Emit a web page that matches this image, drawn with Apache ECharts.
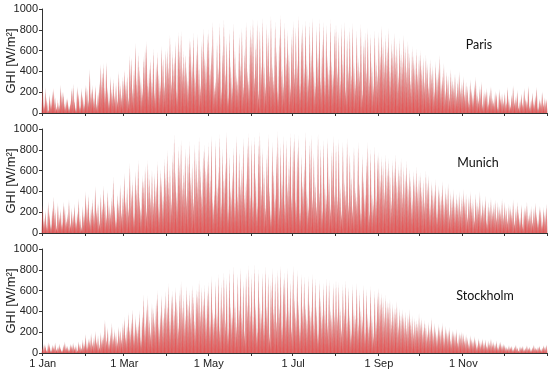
<!DOCTYPE html>
<html>
<head>
<meta charset="utf-8">
<script src="https://cdn.jsdelivr.net/npm/echarts@6/dist/echarts.min.js"></script>
<style>html,body{margin:0;padding:0;background:#fff}#c{width:550px;height:372px}</style>
</head>
<body>
<div id="c"></div>
<script>
// Calendar (2019-like, 365 days)
const monthNames = ['Jan','Feb','Mar','Apr','May','Jun','Jul','Aug','Sep','Oct','Nov','Dec'];
const monthDays = [31,28,31,30,31,30,31,31,30,31,30,31];
const labelledMonths = ['Jan','Mar','May','Jul','Sep','Nov'];
const yTicks = [0,200,400,600,800,1000];
const cities = ['Paris','Munich','Stockholm'];

// Daily peak GHI [W/m2], one sub-array per month. "rose" = pale series, "red" = red series
const parisRose = [
[250,60,245,120,30,180,90,210,220,150,40,100,80,270,190,200,60,140,130,70,90,240,280,110,50,260,180,70,240,160,90],
[270,240,130,420,200,270,150,250,90,180,300,470,380,480,220,490,250,120,350,200,330,160,290,110,400,260,180,350],
[400,300,350,150,560,520,240,400,680,300,580,420,350,200,550,640,690,280,450,500,330,620,180,480,560,400,260,650,520,300,610],
[620,450,750,300,600,520,700,200,780,640,790,420,600,550,450,300,720,680,500,780,350,610,760,430,250,700,820,580,480,760],
[800,420,650,880,240,300,700,460,860,200,620,910,380,720,150,800,450,280,870,600,360,300,760,490,820,250,620,880,400,300,840],
[760,910,350,680,900,180,820,440,920,500,250,860,780,400,930,480,320,890,640,200,760,945,420,300,880,520,800,600,250,760],
[890,400,830,500,930,280,780,860,440,900,520,340,870,600,920,450,260,840,580,900,300,710,880,320,850,560,420,900,500,380,820],
[860,440,780,300,850,520,880,220,760,450,820,360,870,500,280,800,540,400,850,180,700,780,440,820,320,760,480,250,800,520,400],
[780,560,840,700,480,760,650,820,400,700,620,780,540,680,350,720,600,500,760,650,420,700,580,300,640,560,480,620,380,560],
[600,420,540,300,560,480,250,520,400,460,200,500,380,440,560,300,350,480,220,400,360,150,420,330,280,380,200,320,400,250,300],
[350,180,300,260,100,320,240,150,280,346,200,120,260,300,90,220,180,240,80,200,260,150,100,210,180,60,230,140,190,120],
[200,90,250,140,60,180,270,100,160,220,50,130,190,80,240,150,110,260,70,120,200,90,170,250,60,140,100,210,80,150,120]
];
const parisRed = [
[230,90,200,150,20,160,120,180,240,100,60,130,50,240,210,170,90,110,150,40,120,220,250,140,30,230,200,50,210,180,70],
[240,260,100,380,230,240,120,270,60,200,280,440,400,450,250,460,220,150,320,230,300,190,260,140,370,290,150,320],
[420,260,380,120,520,540,200,430,640,340,550,450,300,240,520,600,660,320,420,530,300,580,220,450,590,360,300,620,540,260,580],
[590,480,720,340,560,560,660,240,740,600,760,460,560,580,400,340,680,700,460,740,390,570,720,470,290,660,790,540,520,720],
[760,460,600,850,280,340,660,420,830,240,580,870,420,680,190,760,490,240,830,560,400,340,720,450,790,290,580,850,440,340,800],
[720,880,390,640,860,220,780,480,890,460,290,820,740,440,900,440,360,850,600,240,720,910,460,260,850,560,760,560,290,720],
[850,440,790,460,900,320,740,820,400,870,480,380,830,560,890,410,300,800,540,870,340,670,850,360,810,520,460,860,460,420,780],
[820,400,740,340,810,480,840,260,720,410,780,400,830,460,320,760,500,440,810,220,660,740,400,780,360,720,440,290,760,480,360],
[740,600,800,660,520,720,610,780,440,660,580,740,580,640,390,680,560,540,720,610,460,660,540,340,600,520,440,580,420,520],
[560,460,500,340,520,440,290,480,360,420,240,460,340,400,520,260,390,440,180,370,320,190,380,300,240,350,170,290,370,220,270],
[320,210,270,230,130,290,210,180,250,320,170,150,230,280,60,190,210,210,110,170,240,120,130,180,200,40,200,170,160,100],
[180,110,230,110,80,160,240,130,140,200,70,110,170,100,220,130,130,240,50,140,180,110,150,230,40,120,120,190,100,130,140]
];
const munichRose = [
[270,120,220,60,300,180,90,250,350,200,40,290,150,230,80,300,260,110,190,320,70,240,160,280,100,210,330,140,60,260,190],
[400,250,370,120,260,330,180,450,210,300,90,380,240,460,320,150,410,280,200,350,540,260,120,380,300,470,190,380],
[580,300,450,220,670,380,520,160,600,420,700,340,250,560,480,650,200,700,530,380,610,300,580,450,690,240,620,500,360,720,580],
[800,500,650,300,760,960,580,400,830,700,900,450,620,820,350,760,880,540,680,300,860,720,500,920,640,380,800,860,600,740],
[870,520,940,300,380,900,480,600,950,280,820,560,660,980,220,760,400,560,830,300,940,350,800,500,620,920,340,500,870,960,380],
[900,300,940,580,250,880,970,420,820,600,240,760,950,400,180,880,620,340,800,980,260,860,520,940,280,900,480,650,960,360],
[880,970,300,820,940,200,760,500,680,980,420,240,880,940,320,780,500,260,960,420,840,200,900,480,340,920,560,240,800,940,400],
[860,320,900,460,180,880,520,380,920,260,780,560,220,840,440,320,880,500,200,760,550,340,720,880,180,800,400,280,840,360,760],
[780,520,740,680,400,760,620,720,560,300,700,640,760,480,660,600,720,380,650,560,700,450,620,540,300,600,520,640,420,560],
[580,400,520,300,600,480,560,250,500,440,380,520,200,460,420,350,500,280,440,380,480,180,400,350,420,260,380,320,400,220,360],
[420,300,380,150,350,400,260,330,120,380,300,250,400,180,320,280,360,100,300,250,340,200,280,320,150,300,260,200,330,180],
[300,220,120,280,260,180,320,90,240,300,200,150,280,60,250,220,300,140,200,260,100,240,290,180,130,260,220,80,250,200,280]
];
const munichRed = [
[240,150,190,90,270,210,60,220,320,230,70,260,180,200,110,270,230,140,160,290,100,210,190,250,130,180,300,170,40,230,160],
[370,280,340,150,230,300,210,420,240,270,120,350,270,430,290,180,380,250,230,320,500,290,150,350,270,440,220,350],
[540,340,420,250,630,420,480,200,560,460,660,380,220,520,520,610,240,660,570,340,570,340,540,490,650,280,580,540,320,680,540],
[760,540,610,340,720,910,620,360,790,660,860,490,580,780,390,720,840,580,640,340,820,680,540,880,600,420,760,820,640,700],
[830,560,900,340,420,860,440,640,910,320,780,520,700,940,260,720,440,600,790,340,900,390,760,460,660,880,380,540,830,920,340],
[860,340,900,540,290,840,930,460,780,560,280,720,910,440,220,840,580,380,760,940,300,820,480,900,320,860,440,690,920,320],
[840,930,340,780,900,240,720,460,640,940,380,280,840,900,360,740,460,300,920,380,800,240,860,440,380,880,520,280,760,900,360],
[820,360,860,420,220,840,480,420,880,300,740,520,260,800,400,360,840,460,240,720,510,380,680,840,220,760,360,320,800,320,720],
[740,560,700,640,440,720,580,680,600,340,660,600,720,520,620,560,680,420,610,520,660,490,580,500,340,560,480,600,460,520],
[540,440,480,340,560,440,520,290,460,400,420,480,240,420,380,390,460,320,400,340,440,220,360,310,380,300,340,280,360,260,320],
[380,330,340,190,310,360,290,290,160,340,270,280,360,210,280,250,320,130,260,220,300,230,240,290,180,260,230,230,290,150],
[270,250,150,250,230,210,290,120,210,270,230,120,250,90,220,250,270,170,170,230,130,210,260,210,100,230,250,110,220,170,250]
];
const stockholmRose = [
[40,90,60,20,100,70,30,80,50,100,30,60,90,40,20,80,110,50,70,30,90,60,100,40,80,20,110,70,50,130,90],
[180,60,140,110,190,80,150,210,100,170,50,200,130,180,320,120,250,90,200,290,140,230,170,100,260,210,130,290],
[345,150,280,390,220,320,420,180,360,250,300,410,130,380,565,260,450,550,320,200,480,435,300,520,600,250,400,560,330,480,600],
[450,670,300,560,600,380,640,500,250,600,690,420,560,330,650,480,600,380,660,520,280,620,560,700,400,640,500,660,340,600],
[680,280,740,400,350,700,360,760,220,680,420,780,300,720,200,800,440,360,840,500,250,760,420,820,340,700,180,780,460,840,400],
[760,320,855,480,200,800,520,380,780,280,840,460,760,150,700,820,400,740,300,800,460,840,250,720,780,360,820,440,700,220],
[840,560,360,800,500,250,760,420,740,480,320,740,500,400,760,280,720,460,180,700,540,360,680,420,720,260,700,440,340,680,400],
[700,360,680,440,220,660,400,700,300,640,380,180,660,420,340,680,260,600,440,320,660,200,620,380,280,640,360,160,600,320,580],
[630,480,580,540,360,560,500,440,520,300,480,440,400,500,260,430,380,420,340,400,240,370,420,300,360,200,340,320,260,380],
[300,340,220,320,280,180,300,260,340,200,290,240,160,280,250,220,290,150,260,230,200,250,120,220,210,180,230,100,200,180,210],
[190,120,180,150,80,170,140,110,160,130,60,145,120,90,140,100,130,60,120,100,140,80,110,90,120,50,100,110,70,90],
[80,60,40,75,50,70,30,60,80,45,20,65,55,70,30,50,75,40,60,25,55,80,45,35,60,70,30,50,75,60,80]
];
const stockholmRed = [
[60,70,80,30,80,90,20,60,70,80,40,50,70,60,30,60,90,70,50,40,70,80,80,60,60,30,90,90,40,110,70],
[150,90,110,140,160,110,120,180,130,140,80,170,160,150,290,150,220,120,170,260,170,200,200,130,230,240,160,260],
[320,180,250,360,250,290,390,210,330,280,270,380,160,350,530,290,420,520,350,230,450,400,330,490,570,280,370,530,360,450,560],
[480,630,340,520,570,420,600,530,290,560,650,460,520,370,610,520,560,420,620,560,320,580,600,660,440,600,540,620,380,560],
[640,320,700,440,390,660,400,720,260,640,460,740,340,680,240,760,480,400,800,460,290,720,460,780,380,660,220,740,500,800,440],
[720,360,810,440,240,760,480,420,740,320,800,420,720,190,660,780,440,700,340,760,420,800,290,680,740,400,780,400,660,260],
[800,520,400,760,460,290,720,460,700,440,360,700,460,440,720,320,680,420,220,660,500,400,640,380,680,300,660,400,380,640,360],
[660,400,640,400,260,620,440,660,340,600,340,220,620,380,380,640,300,560,400,360,620,240,580,340,320,600,320,200,560,280,540],
[590,520,540,500,400,520,460,480,480,340,440,400,440,460,300,400,350,380,370,360,280,340,380,330,320,230,310,290,290,340],
[270,310,250,290,250,210,270,230,310,230,260,210,190,250,220,250,260,180,230,200,220,220,140,200,180,200,200,120,180,150,190],
[170,140,160,130,100,150,120,130,140,110,80,125,100,110,120,80,110,80,100,80,120,100,90,70,100,60,80,90,80,70],
[70,50,50,60,60,60,40,50,70,55,30,55,45,60,40,40,65,50,50,35,45,70,55,45,50,60,40,45,65,50,70]
];

// ---------- build ----------
const categories = [];
const monthStart = new Set();
const labelIdx = new Set();
monthNames.forEach((m, mi) => {
  for (let d = 1; d <= monthDays[mi]; d++) {
    if (d === 1) { monthStart.add(categories.length); if (labelledMonths.includes(m)) labelIdx.add(categories.length); }
    categories.push(d + ' ' + m);
  }
});
function flat(a){ const r=[]; a.forEach((m, mi)=>{ for(let i=0;i<monthDays[mi];i++) r.push(m[i]!==undefined?m[i]:0); }); return r; }

const seriesData = [[parisRose, parisRed],[munichRose, munichRed],[stockholmRose, stockholmRed]];
const gridTops = [9, 129, 249];
const gridH = 104;
const font = 'Liberation Sans, Arial, sans-serif';

const grids = [], xAxes = [], yAxes = [], series = [], graphics = [];
const labelPos = [[479, 45], [478, 163], [485, 296]];
cities.forEach((city, i) => {
  grids.push({ left: 42, right: 3, top: gridTops[i], height: gridH, containLabel: false, outerBoundsMode: 'none' });
  const bottom = i === cities.length - 1;
  xAxes.push({
    type: 'category', gridIndex: i, data: categories, boundaryGap: true,
    axisLine: { show: true, lineStyle: { color: '#333', width: 1 } },
    axisTick: { show: true, length: 3, interval: (idx) => monthStart.has(idx), lineStyle: { color: '#333' } },
    axisLabel: { show: bottom, interval: (idx) => labelIdx.has(idx), formatter: (v) => v, color: '#222', fontSize: 11, fontFamily: font, margin: 5 },
    splitLine: { show: false }
  });
  yAxes.push({
    type: 'value', gridIndex: i, min: 0, max: 1000, interval: 200,
    name: 'GHI [W/m²]', nameLocation: 'middle', nameGap: 24, nameRotate: 90, nameMoveOverlap: false,
    nameTextStyle: { fontSize: 13, color: '#222', fontFamily: font },
    axisLine: { show: true, lineStyle: { color: '#333', width: 1 } },
    axisTick: { show: true, length: 3, lineStyle: { color: '#333' } },
    axisLabel: { color: '#222', fontSize: 11, fontFamily: font, margin: 4, formatter: (v) => yTicks.includes(v) ? String(v) : '' },
    splitLine: { show: false }
  });
  const [rose, red] = seriesData[i];
  series.push({
    type: 'pictorialBar', xAxisIndex: i, yAxisIndex: i, data: flat(rose),
    symbol: 'triangle', symbolSize: [3, '100%'], symbolPosition: 'start', barGap: '-100%',
    itemStyle: { color: 'rgba(180,100,100,0.42)' }, silent: true
  });
  series.push({
    type: 'pictorialBar', xAxisIndex: i, yAxisIndex: i, data: flat(red),
    symbol: 'triangle', symbolSize: [1.2, '100%'], symbolPosition: 'start', barGap: '-100%',
    itemStyle: { color: 'rgba(238,50,50,0.65)' }, silent: true
  });
  graphics.push({
    type: 'text', x: labelPos[i][0], y: labelPos[i][1],
    style: { text: city, fill: '#111', font: '12.5px Lato, "Open Sans", sans-serif', textAlign: 'center', textVerticalAlign: 'middle' }
  });
});

const chart = echarts.init(document.getElementById('c'), null, { renderer: 'canvas' });
chart.setOption({
  animation: false,
  backgroundColor: '#fff',
  grid: grids, xAxis: xAxes, yAxis: yAxes, series: series,
  graphic: graphics
});
</script>
</body>
</html>
